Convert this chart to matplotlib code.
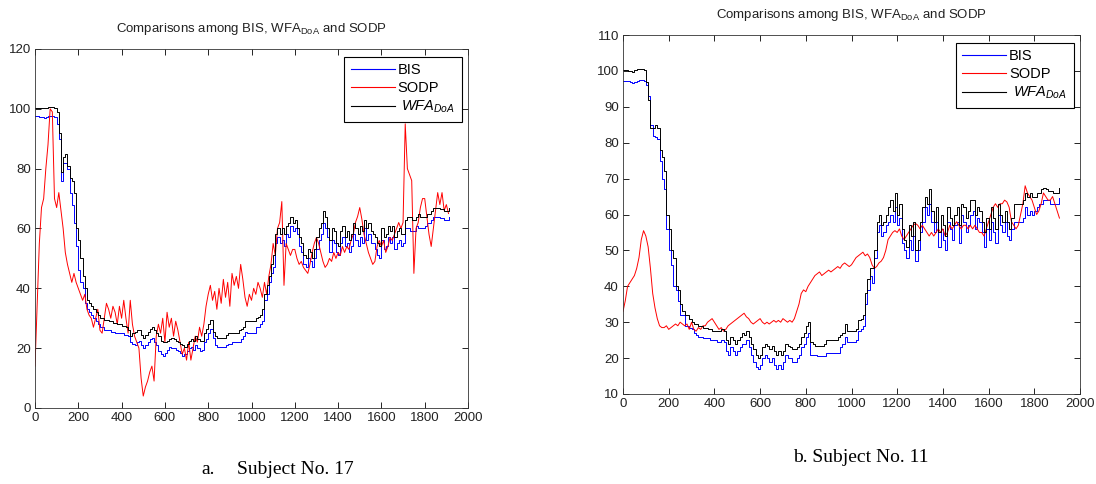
import numpy as np
import matplotlib
matplotlib.use('Agg')
import matplotlib.pyplot as plt
from matplotlib.lines import Line2D

plt.rcParams['font.family'] = ['Liberation Sans', 'DejaVu Sans']
plt.rcParams['mathtext.fontset'] = 'custom'
plt.rcParams['mathtext.rm'] = 'Liberation Sans'
plt.rcParams['mathtext.it'] = 'Liberation Sans:italic'

# sample index, one value every 10 samples
t = np.arange(0, 1911, 10)

# ---- Subject No. 17 ----
bis_17 = [
    97.5, 97.5, 97.4, 97.2, 97.0, 97.3, 97.5, 97.6, 97.5, 97.2, 95, 90, 76, 82, 82, 80, 72, 68, 62, 54,
    46, 42, 40, 35, 33, 32, 31, 30, 29, 28, 27, 27, 26, 26, 26, 25.5, 25.5, 25, 25, 25,
    25, 24.5, 24.5, 24, 22, 21.5, 21, 22, 22.5, 21, 20, 21, 22, 23, 23.5, 22, 21, 19, 18, 17.5,
    18.5, 19.5, 20.5, 20, 20, 19.5, 19, 18.5, 17.5, 18, 19, 20, 20.5, 19.5, 21, 20, 19, 19.5, 22, 23,
    25, 26.5, 23.5, 21, 20.5, 20.5, 20.5, 20.5, 21, 21.5, 21.5, 22, 22, 22, 22, 23, 24, 25.5, 25, 25,
    25, 25, 27, 27, 28, 29, 36, 38, 42, 45, 47, 55, 57, 55, 56, 54, 58, 57, 61, 59,
    60, 58, 54, 52, 48, 47, 50, 49, 47, 50, 53, 56, 58, 62, 60, 57, 52, 56, 55, 52,
    51, 55, 57, 54, 55, 52, 54, 58, 56, 54, 57, 55, 60, 56, 58, 55, 55, 53, 51, 50,
    56, 53, 54, 57, 55, 57, 53, 55, 56, 54, 55, 60, 60, 59, 59, 59, 61, 60, 60, 60,
    61, 62, 62, 63, 64, 64, 64, 63.5, 63.5, 63, 63, 64]
sodp_17 = [
    14, 35, 55, 67, 70, 80, 88, 100, 99, 70, 67, 72, 66, 60, 52, 48, 45, 42, 45, 42,
    40, 38, 36, 38, 33, 31, 30, 27, 30, 33, 26, 25, 30, 35, 33, 30, 34, 32, 28, 34,
    30, 36, 30, 25, 36, 28, 24, 22, 20, 10, 4, 7, 9, 12, 14, 9, 24, 28, 25, 30,
    22, 32, 27, 30, 24, 29, 26, 22, 18, 20, 16, 22, 16, 20, 24, 22, 27, 24, 28, 34,
    38, 41, 36, 39, 33, 40, 35, 43, 37, 42, 34, 45, 41, 44, 40, 48, 43, 37, 34, 38,
    36, 40, 38, 42, 40, 37, 42, 38, 44, 48, 55, 51, 60, 62, 69, 41, 55, 53, 51, 53,
    53, 50, 48, 49, 47, 46, 45, 48, 52, 55, 57, 55, 52, 49, 47, 48, 50, 49, 52, 50,
    52, 51, 54, 52, 54, 53, 56, 58, 62, 64, 67, 63, 58, 55, 52, 50, 48, 49, 54, 56,
    54, 56, 52, 54, 57, 56, 58, 60, 62, 60, 62, 95, 80, 78, 76, 45, 60, 62, 67, 70,
    70, 64, 58, 54, 60, 66, 72, 68, 72, 66, 68, 65]
wfa_17 = [
    100.3, 100.3, 100.2, 100.3, 100.2, 100.4, 100.5, 100.6, 100.6, 100.3, 99, 92, 79, 84, 85, 81, 77, 76, 72, 60,
    56, 50, 44, 40, 36, 35, 34, 33, 32, 31, 30, 30, 29.5, 29.5, 29, 29, 28.5, 28.5, 28, 28,
    27.5, 27.5, 27, 26, 24, 25, 25.5, 26, 26, 24.5, 23.5, 24.5, 25.5, 26.5, 27, 26, 25, 24, 22.5, 22,
    22, 22.5, 23, 23.5, 23, 22.5, 22, 21.5, 21, 20.5, 21.5, 22.5, 23, 22.5, 24, 23, 22.5, 22.5, 25, 26.5,
    28, 29.5, 25.5, 24, 23.5, 23.5, 23.5, 23.5, 24.5, 25, 25, 25, 25, 25, 26, 26.5, 27, 29, 29, 29,
    29, 29, 30, 30.5, 31, 33, 38, 41, 44, 48, 51, 58, 60, 58, 60, 58, 61, 62, 64, 62,
    63, 60, 57, 55, 51, 50, 53, 52, 50, 53, 57, 60, 62, 66, 64, 60, 56, 60, 59, 55,
    54, 59, 61, 57, 59, 56, 58, 62, 60, 58, 61, 59, 63, 60, 62, 59, 58, 57, 55, 54,
    60, 57, 58, 61, 59, 61, 57, 59, 60, 58, 58, 63, 64, 64, 63, 63, 64, 65, 64, 64,
    64, 65, 65, 66, 67, 67, 67, 66.5, 66.5, 66, 66, 67]

# ---- Subject No. 11 ----
bis_11 = [
    97.3, 97.3, 97.2, 97.0, 96.6, 97.0, 97.3, 97.5, 97.6, 97.3, 96, 93, 85, 82, 81.5, 81, 75, 70, 67, 56,
    50, 46, 40, 39, 36, 32, 32, 29, 29, 28.5, 28, 27, 26.5, 26, 26, 25.5, 25.5, 25.5, 25, 25,
    25, 24.5, 24.5, 25, 24.5, 22, 21, 23, 22, 21, 22, 23, 24, 24, 25, 23, 21, 19, 17.5, 17,
    18, 20, 21, 20, 19, 20, 18, 17, 18, 17, 19, 21, 20, 20, 19, 19, 20, 21, 23, 24,
    26, 27, 21, 21, 21, 20.5, 20.5, 20.5, 20.5, 21.5, 21.5, 21.5, 21.5, 21.5, 21.5, 23, 24, 26, 24.5, 24.5,
    24.5, 24.5, 25, 27.5, 28, 29, 35, 39, 43, 41, 48, 55, 57, 54, 55, 57, 58, 60, 58, 62,
    57, 59, 52, 50, 48, 53, 50, 54, 47, 50, 55, 58, 62, 60, 63, 58, 55, 58, 51, 56,
    53, 50, 58, 56, 53, 57, 58, 52, 60, 58, 55, 57, 60, 61, 56, 59, 58, 55, 51, 56,
    53, 58, 55, 52, 60, 57, 55, 58, 54, 53, 56, 58, 58, 58, 58, 59, 62, 60, 61, 60,
    61, 62, 63, 63, 64, 64, 64, 63, 63, 63, 63, 64.5]
sodp_11 = [
    33, 36, 40, 41, 42, 43, 45, 48, 53, 55.5, 54, 51, 45, 38, 34, 31, 29, 28.5, 28.5, 29,
    28, 28.5, 29, 29.5, 29, 30, 29.5, 29, 29.5, 28, 30, 28, 27.5, 28.5, 28, 29, 29, 30, 30.5, 31,
    30, 29, 28, 28.5, 27.5, 28, 29, 29.5, 30, 30.5, 31, 31.5, 32, 32.5, 31.5, 31, 30, 29.5, 30, 30.5,
    31, 30, 29.5, 30, 29.5, 30, 30.5, 30, 30.5, 30, 31, 30.5, 30, 30.5, 30, 31, 33, 35, 38, 39,
    38.5, 40, 41, 42, 43, 43.5, 44, 43, 43.5, 44, 44.5, 44, 44.5, 45, 45.5, 45, 46, 46.5, 46, 45.5,
    46, 47, 48, 48.5, 49, 49.5, 48.5, 49, 48, 46, 45, 45.5, 46.5, 47, 48, 50, 53, 54, 55, 55.5,
    55, 56, 54, 53, 54, 55, 56, 57, 57.5, 57, 56, 57, 56, 55, 54, 55, 54, 55, 56, 55,
    56, 54, 55, 57, 56, 57, 58, 57, 56, 57, 57, 56, 57, 56, 57, 56, 55, 55, 54, 56,
    58, 60, 62, 63, 62, 63, 63, 64, 63.5, 62, 58, 57, 56, 57, 60, 63, 68, 66, 65, 64,
    62, 60, 61, 63, 66, 65, 64, 64, 65, 63, 61, 59]
wfa_11 = [
    100.2, 100.2, 100.1, 100.0, 99.8, 100.2, 100.4, 100.6, 100.6, 100.3, 97, 92, 84, 84, 85, 84, 78, 76, 72, 60,
    56, 50, 48, 40, 39, 35, 33, 32, 32, 31, 30, 29.5, 29.5, 29, 29, 28.5, 28.5, 28, 28, 27.5,
    27.5, 27.5, 27.5, 28, 27.5, 25, 24, 26, 25, 24, 25, 26, 27, 26.5, 27.5, 26, 24, 22.5, 21, 20,
    21, 23, 24, 23.5, 22.5, 23.5, 22, 21, 22, 21, 22, 24, 23.5, 23, 22.5, 22.5, 23, 24, 26, 27,
    29, 30, 24.5, 24, 23.5, 23.5, 23.5, 23.5, 24, 25, 25, 25, 25, 25, 26, 26.5, 27, 29.5, 27.5, 27.5,
    27.5, 27.5, 28, 30.5, 31, 32, 38, 42, 45, 45, 50, 58, 60, 57, 58, 60, 62, 64, 61, 66,
    60, 63, 56, 53, 51, 57, 54, 58, 50, 53, 58, 62, 65, 63, 67, 61, 58, 62, 55, 60,
    57, 54, 62, 59, 57, 60, 62, 57, 63, 62, 59, 61, 64, 64, 60, 62, 61, 58, 55, 59,
    56, 62, 59, 56, 63, 60, 58, 61, 58, 56, 59, 63, 63, 63, 63, 64, 66, 65, 66, 65,
    65, 66, 66, 67, 67.5, 67, 66.5, 66.5, 66, 66, 66, 67.5]

title = 'Comparisons among BIS, WFA$_{\\mathrm{DoA}}$ and SODP'
labels = ['BIS', 'SODP', ' $\\mathit{WFA}_{\\mathit{DoA}}$']
colors = ['#0000ff', '#ff0000', 'black']

fig = plt.figure(figsize=(10.96, 4.84), dpi=100)
ax1 = fig.add_axes([35/1096, 1-408/484, 433/1096, 359/484])
ax2 = fig.add_axes([623/1096, 1-394/484, 457/1096, 359/484])


def panel(ax, bis, sodp, wfa, ylim, yticks):
    ax.plot(t, bis, color=colors[0], lw=0.7, drawstyle='steps-post')
    ax.plot(t, sodp, color=colors[1], lw=0.7)
    ax.plot(t, wfa, color=colors[2], lw=0.7, drawstyle='steps-post')
    ax.set_xlim(0, 2000)
    ax.set_ylim(*ylim)
    ax.set_xticks(np.arange(0, 2001, 200))
    ax.set_yticks(yticks)
    ax.tick_params(direction='in', top=True, right=True, length=4, width=0.6,
                   labelsize=9.5, pad=3, labelcolor='#222222')
    for s in ax.spines.values():
        s.set_linewidth(0.6)
        s.set_color('#333333')
    ax.set_title(title, fontsize=9.5, y=1.025, color='#222222')
    handles = [Line2D([], [], color=c, lw=0.8) for c in colors]
    leg = ax.legend(handles, labels, loc='upper right', bbox_to_anchor=(0.986, 0.978),
                    borderaxespad=0, fontsize=10.5, handlelength=3.0, fancybox=False,
                    framealpha=1, edgecolor='black', borderpad=0.45, labelspacing=0.25,
                    handletextpad=0.2)
    leg.get_frame().set_linewidth(0.8)


panel(ax1, bis_17, sodp_17, wfa_17, (0, 120), np.arange(0, 121, 20))
panel(ax2, bis_11, sodp_11, wfa_11, (10, 110), np.arange(10, 111, 10))

fig.text(201/1096, 1-470/484, 'a.', family='Liberation Serif', fontsize=14, va='center')
fig.text(237/1096, 1-470/484, 'Subject No. 17', family='Liberation Serif', fontsize=14, va='center')
fig.text(793/1096, 1-457/484, 'b. Subject No. 11', family='Liberation Serif', fontsize=14, va='center')

fig.savefig('out.png', dpi=100)
